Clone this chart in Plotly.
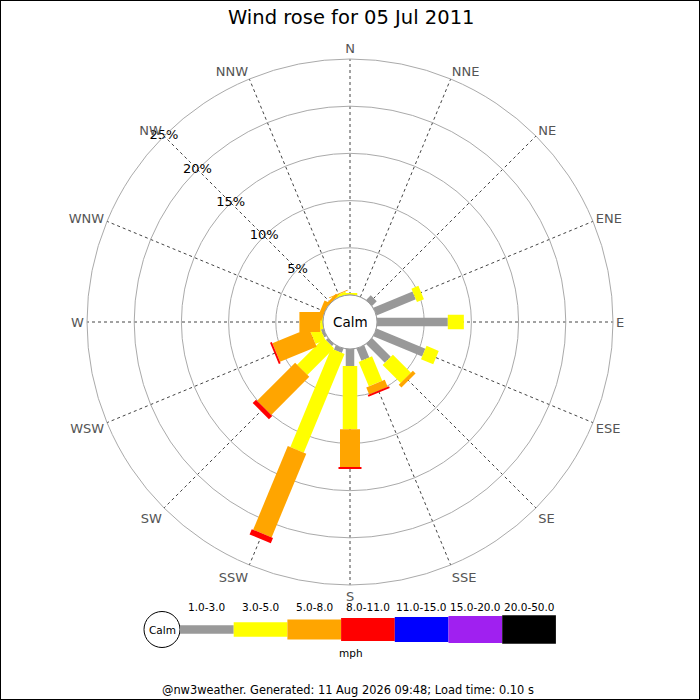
import plotly.graph_objects as go

# ---- data (percent of time, by direction and speed class) ----
directions = ["N", "NNE", "NE", "ENE", "E", "ESE", "SE", "SSE",
              "S", "SSW", "SW", "WSW", "W", "WNW", "NW", "NNW"]
speed_1_3 = [0.0, 0.0, 0.7, 4.5, 7.5, 5.6, 2.8, 1.4, 1.8, 0.5, 0.3, 0.3, 0.0, 0.0, 0.0, 0.0]
speed_3_5 = [0.2, 0.0, 0.0, 0.8, 1.7, 1.4, 2.7, 2.8, 6.7, 11.3, 4.0, 1.1, 0.3, 0.0, 0.0, 0.3]
speed_5_8 = [0.0, 0.0, 0.0, 0.0, 0.0, 0.0, 0.4, 0.8, 4.0, 9.6, 5.7, 4.2, 2.2, 0.5, 0.3, 0.1]
speed_8_11 = [0.0, 0.0, 0.0, 0.0, 0.0, 0.0, 0.0, 0.2, 0.2, 0.6, 0.5, 0.2, 0.0, 0.0, 0.0, 0.0]
series = [speed_1_3, speed_3_5, speed_5_8, speed_8_11]

legend_labels = ["1.0-3.0", "3.0-5.0", "5.0-8.0", "8.0-11.0", "11.0-15.0", "15.0-20.0", "20.0-50.0"]
colors = ["#999999", "#ffff00", "#ffa500", "#ff0000", "#0000ff", "#a020f0", "#000000"]
widths = [8.5, 14.5, 20, 23, 25, 27, 28.5]
ring_vals = [5, 10, 15, 20, 25]
ring_labels = ["5%", "10%", "15%", "20%", "25%"]

W, H = 700, 700
FONT = "DejaVu Sans"

fig = go.Figure()

# stacked bars drawn as thick radial segments
cum = [0.0] * len(directions)
for k, vals in enumerate(series):
    rr, tt = [], []
    for i, d in enumerate(directions):
        v = vals[i]
        if v > 0:
            rr += [cum[i], cum[i] + v, None]
            tt += [d, d, None]
        cum[i] += v
    fig.add_trace(go.Scatterpolar(
        r=rr, theta=tt, mode="lines",
        line=dict(color=colors[k], width=widths[k]),
        connectgaps=False, showlegend=False, hoverinfo="skip"))

# radial ring labels along NW spoke
fig.add_trace(go.Scatterpolar(
    r=ring_vals, theta=["NW"] * len(ring_vals), mode="text",
    text=ring_labels, textfont=dict(size=13, color="black", family=FONT),
    showlegend=False, hoverinfo="skip"))

cx, cy, R = 350, 322, 263
hole_px = 27

def px(x):
    return x / W

def py(y):
    return 1 - y / H

shapes = []
annotations = []

def text(t, x, y, size, color="black"):
    annotations.append(dict(text=t, x=px(x), y=py(y), xref="paper", yref="paper",
                            xanchor="center", yanchor="middle", showarrow=False,
                            font=dict(size=size, color=color, family=FONT)))

# calm circle
shapes.append(dict(type="circle", xref="paper", yref="paper",
                   x0=px(cx - hole_px), x1=px(cx + hole_px),
                   y0=py(cy + hole_px), y1=py(cy - hole_px),
                   line=dict(color="#999999", width=1), fillcolor="white", layer="above"))
text("Calm", cx, cy, 13.5)

# legend
leg_y = 629.5
lx0, step = 180, 53.7
shapes.append(dict(type="circle", xref="paper", yref="paper",
                   x0=px(144), x1=px(180), y0=py(leg_y + 18), y1=py(leg_y - 18),
                   line=dict(color="black", width=1), fillcolor="white"))
text("Calm", 162, leg_y, 10.5)
for i, lab in enumerate(legend_labels):
    x0 = lx0 + i * step
    h = widths[i]
    shapes.append(dict(type="rect", xref="paper", yref="paper",
                       x0=px(x0), x1=px(x0 + step), y0=py(leg_y + h / 2), y1=py(leg_y - h / 2),
                       line=dict(width=0), fillcolor=colors[i]))
    text(lab, x0 + step / 2, 607, 10.5)
text("mph", 351, 653, 10.5)
text("@nw3weather. Generated: 11 Aug 2026 09:48; Load time: 0.10 s", 348, 690, 11.4)
text("Wind rose for 05 Jul 2011", 351, 17.5, 19.5)

# image border
shapes.append(dict(type="rect", xref="paper", yref="paper", x0=0, x1=1, y0=0, y1=1,
                   line=dict(color="black", width=2), layer="above"))

fig.update_layout(
    width=W, height=H, autosize=False,
    margin=dict(l=0, r=0, t=0, b=0),
    paper_bgcolor="white", plot_bgcolor="white",
    font=dict(family=FONT),
    showlegend=False,
    polar=dict(
        domain=dict(x=[px(cx - R), px(cx + R)], y=[py(cy + R), py(cy - R)]),
        hole=hole_px / R,
        bgcolor="white",
        angularaxis=dict(
            type="category", categoryarray=directions,
            direction="clockwise", rotation=90,
            showgrid=True, gridcolor="#444444", griddash="dot", gridwidth=0.8,
            showline=True, linecolor="#aaaaaa", linewidth=1,
            ticks="", tickfont=dict(size=13, color="#555555", family=FONT)),
        radialaxis=dict(
            range=[0, 25], tickvals=ring_vals, showticklabels=False,
            showgrid=True, gridcolor="#aaaaaa", gridwidth=1,
            showline=False, ticks="")),
    shapes=shapes, annotations=annotations,
)

fig.write_html("out.html", config={"displayModeBar": False},
               post_script="document.body.style.margin='0px';document.body.style.overflow='hidden';")
